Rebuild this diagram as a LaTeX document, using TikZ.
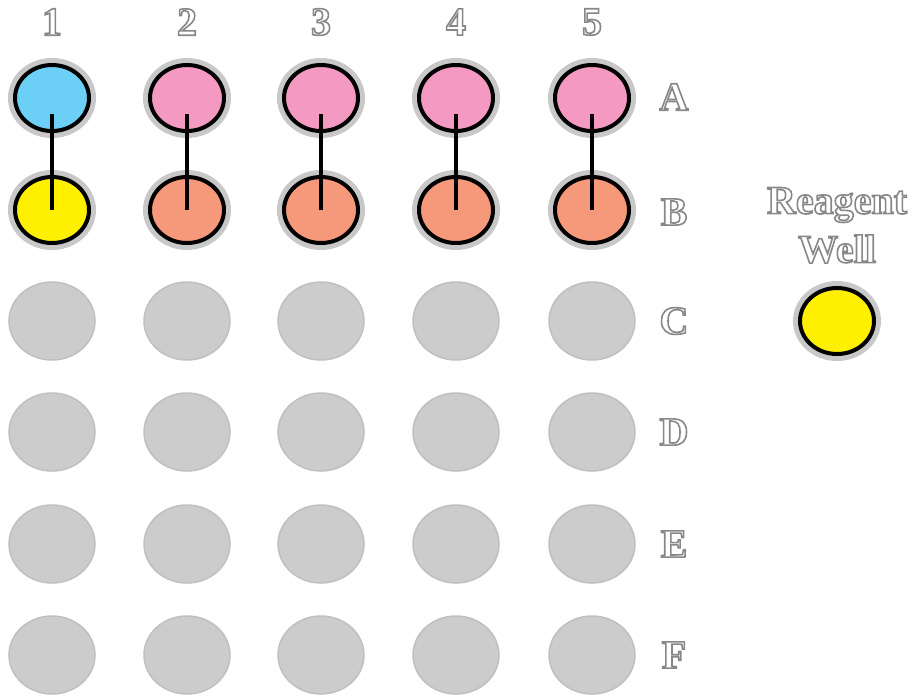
\documentclass[tikz,border=0pt]{standalone}
\usepackage{fontspec}
\setmainfont{Liberation Serif}
\usetikzlibrary{shapes.geometric}

\definecolor{wellgray}{RGB}{204,204,204}
\definecolor{edgegray}{RGB}{192,192,192}
\definecolor{ringgray}{RGB}{200,200,200}
\definecolor{cyanwell}{RGB}{108,207,246}
\definecolor{pinkwell}{RGB}{244,154,194}
\definecolor{salmonwell}{RGB}{246,152,122}
\definecolor{yellowwell}{RGB}{255,240,0}

% hollow grey lettering: fill white, stroke grey
\newcommand{\engr}[1]{{\color{white}\special{pdf:literal direct 2 Tr 1.6 w 0.53 G}#1\special{pdf:literal direct 0 Tr}}}

\tikzset{
  emptywell/.style={ellipse, inner sep=0pt, minimum width=86pt, minimum height=78pt,
    fill=wellgray, draw=edgegray, line width=1.5pt},
  fullwell/.style={ellipse, inner sep=0pt, minimum width=74pt, minimum height=66pt,
    fill=#1, draw=black, line width=4pt, preaction={draw=ringgray, line width=14pt}},
  link/.style={draw=black, line width=4pt},
  lbl/.style={inner sep=0pt, font=\fontsize{40}{42}\selectfont\bfseries},
}

\begin{document}
\begin{tikzpicture}[x=1pt,y=-1pt]
\useasboundingbox (0,0) rectangle (917,694);

% empty wells, rows C to F
\foreach \c/\x in {1/52,2/187,3/321,4/456,5/592}{
  \foreach \r/\y in {c/321,d/432,e/544,f/655}{
    \node [emptywell] (\r\c) at (\x,\y) {};
  }
}

% filled wells, rows A and B
\node [fullwell=cyanwell] (a1) at (52,98) {};
\node [fullwell=pinkwell] (a2) at (187,98) {};
\node [fullwell=pinkwell] (a3) at (321,98) {};
\node [fullwell=pinkwell] (a4) at (456,98) {};
\node [fullwell=pinkwell] (a5) at (592,98) {};
\node [fullwell=yellowwell] (b1) at (52,210) {};
\node [fullwell=salmonwell] (b2) at (187,210) {};
\node [fullwell=salmonwell] (b3) at (321,210) {};
\node [fullwell=salmonwell] (b4) at (456,210) {};
\node [fullwell=salmonwell] (b5) at (592,210) {};

% links A -> B
\foreach \c in {1,...,5}{
  \draw [link] ([yshift=-16pt]a\c.center) -- (b\c.center);
}

% reagent well
\node [fullwell=yellowwell] (rw) at (837,321) {};

% column numbers
\foreach \c/\x in {1/52,2/187,3/321,4/456,5/592}{
  \node [lbl] (n\c) at (\x,22) {\engr{\c}};
}

% row letters
\node [lbl] (la) at (674,97) {\engr{A}};
\node [lbl] (lb) at (674,212) {\engr{B}};
\node [lbl] (lc) at (674,321) {\engr{C}};
\node [lbl] (ld) at (674,432) {\engr{D}};
\node [lbl] (le) at (674,544) {\engr{E}};
\node [lbl] (lf) at (674,655) {\engr{F}};

% reagent label
\node [lbl] (rtop) at (837,205) {\engr{Reagent}};
\node [lbl] (rbot) at (837,249) {\engr{Well}};

\end{tikzpicture}
\end{document}
